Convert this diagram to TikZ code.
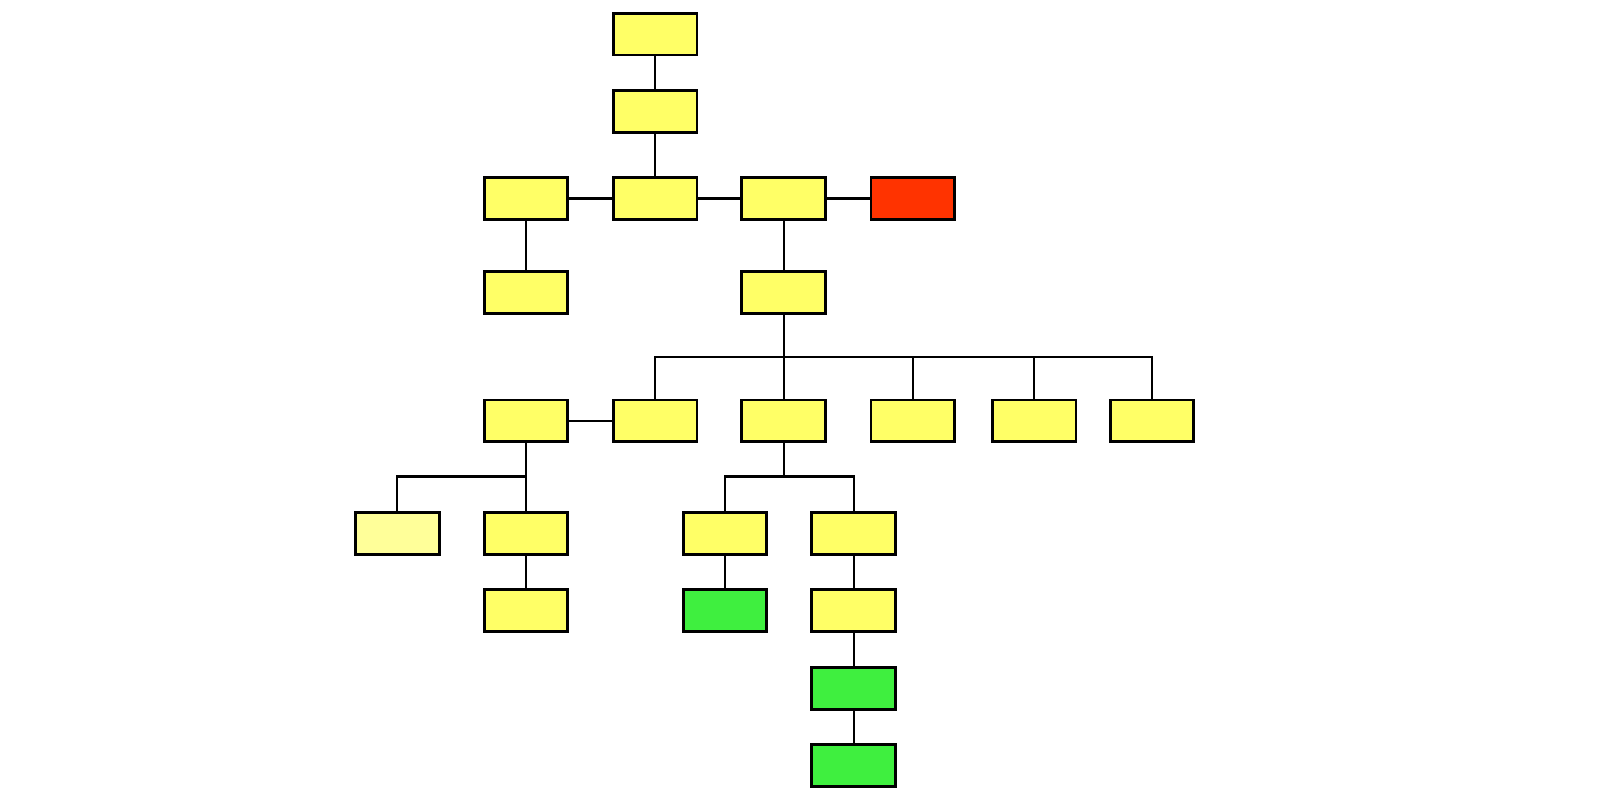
\documentclass[tikz,border=0pt]{standalone}
\usepackage{xcolor}
\usepackage{tikz}

\definecolor{boxyellow}{HTML}{FFFF66}
\definecolor{paleyellow}{HTML}{FFFF99}
\definecolor{boxred}{HTML}{FF3300}
\definecolor{boxgreen}{HTML}{3FEF3F}

\tikzset{
  box/.style={draw, line width=0.8pt, fill=boxyellow, minimum width=0.837cm, minimum height=0.418cm, inner sep=0pt},
  link/.style={line width=0.6pt}
}

\begin{document}
\begin{tikzpicture}
\useasboundingbox (0,0) rectangle (16,8);
\node[box] (0) at (6.551, 7.658){};
\node[box] (1) at (6.551, 6.883){};
\node[box] (2) at (5.260, 6.015){};
\node[box] (3) at (6.551, 6.015){};
\node[box] (4) at (7.837, 6.015){};
\node[box, fill=boxred] (5) at (9.128, 6.015){};
\node[box] (6) at (5.260, 5.077){};
\node[box] (7) at (7.837, 5.077){};
\node[box] (8) at (5.260, 3.791){};
\node[box] (9) at (6.551, 3.791){};
\node[box] (10) at (7.837, 3.791){};
\node[box] (11) at (9.128, 3.791){};
\node[box] (12) at (10.342, 3.791){};
\node[box] (13) at (11.520, 3.791){};
\node[box, fill=paleyellow] (14) at (3.974, 2.668){};
\node[box] (15) at (5.260, 2.668){};
\node[box] (16) at (7.250, 2.668){};
\node[box] (17) at (8.536, 2.668){};
\node[box] (18) at (5.260, 1.893){};
\node[box, fill=boxgreen] (19) at (7.250, 1.893){};
\node[box] (20) at (8.536, 1.893){};
\node[box, fill=boxgreen] (21) at (8.536, 1.117){};
\node[box, fill=boxgreen] (22) at (8.536, 0.342){};
\coordinate (b7) at (7.837, 4.429);
\coordinate (b8) at (5.260, 3.235);
\coordinate (b10) at (7.837, 3.235);
\draw[link] (0) -- (1);
\draw[link] (1) -- (3);
\draw[link] (2) -- (3);
\draw[link] (3) -- (4);
\draw[link] (4) -- (5);
\draw[link] (2) -- (6);
\draw[link] (4) -- (7);
\draw[link] (7) -- (b7) -- (10);
\draw[link] (b7) -| (9);
\draw[link] (b7) -| (11);
\draw[link] (b7) -| (12);
\draw[link] (b7) -| (13);
\draw[link] (8) -- (9);
\draw[link] (8) -- (b8) -- (15);
\draw[link] (b8) -| (14);
\draw[link] (10) -- (b10);
\draw[link] (b10) -| (16);
\draw[link] (b10) -| (17);
\draw[link] (15) -- (18);
\draw[link] (16) -- (19);
\draw[link] (17) -- (20);
\draw[link] (20) -- (21);
\draw[link] (21) -- (22);
\end{tikzpicture}
\end{document}
